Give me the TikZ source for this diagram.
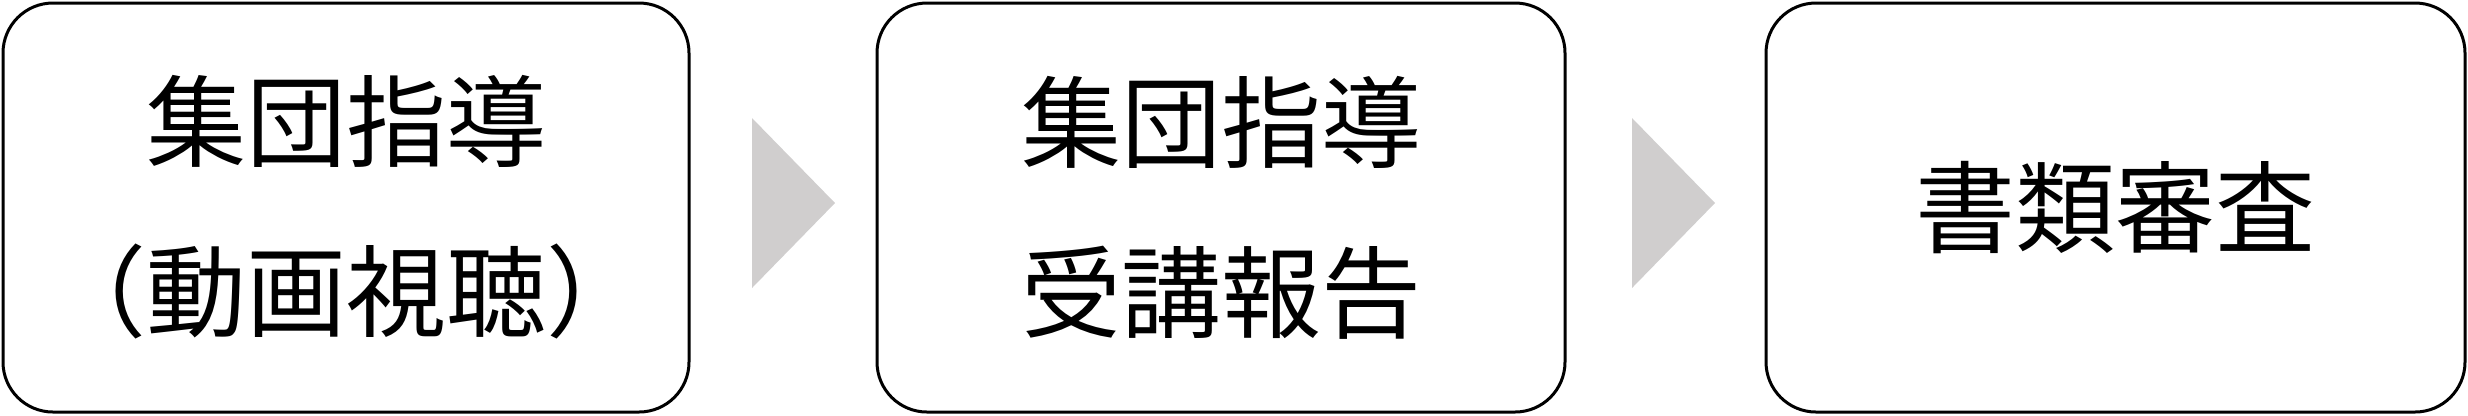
\documentclass[tikz,border=0pt]{standalone}
\usepackage{fontspec}
\newfontfamily\jp{Noto Sans CJK JP}
\definecolor{chev}{HTML}{D0CECE}
\tikzset{
  stepbox/.style={draw=black, line width=0.9pt, rounded corners=15pt, fill=white,
    inner sep=0pt, minimum height=122.7pt, align=center,
    font=\jp\fontsize{30}{51}\selectfont},
  chevron/.style={fill=chev, draw=none}
}
\begin{document}
\begin{tikzpicture}[x=0.3pt,y=-0.3pt]
\useasboundingbox (0,0) rectangle (2468,415);
\node[stepbox, minimum width=205.8pt] (b1) at (346,207.5) {集団指導\\（動画視聴）};
\node[stepbox, minimum width=206.4pt] (b2) at (1221,207.5) {集団指導\\受講報告};
\node[stepbox, minimum width=209.7pt] (b3) at (2115.5,207.5) {書類審査};
\coordinate (a1) at (752,118);
\coordinate (a2) at (1632,118);
\fill[chevron] (a1) -- ++(0,170) -- ++(83,-85) -- cycle;
\fill[chevron] (a2) -- ++(0,170) -- ++(83,-85) -- cycle;
\end{tikzpicture}
\end{document}
